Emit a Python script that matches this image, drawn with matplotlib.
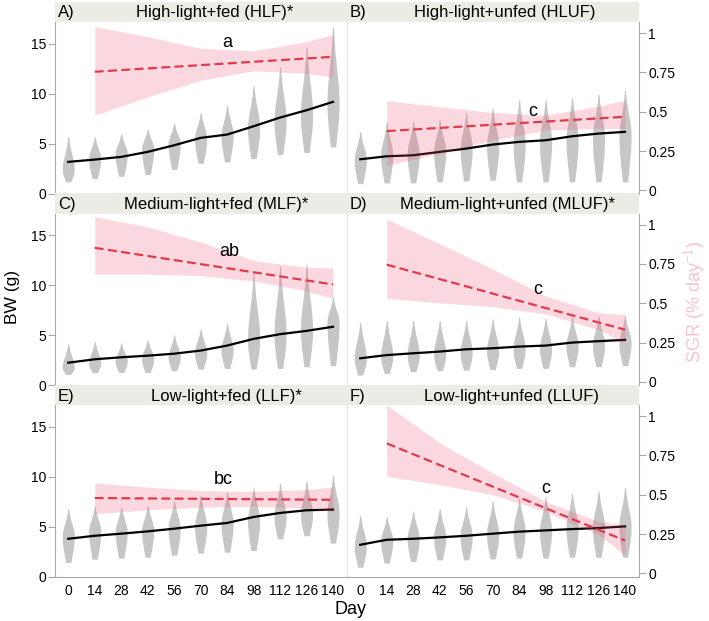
import numpy as np
import matplotlib
matplotlib.use('Agg')
import matplotlib.pyplot as plt

plt.rcParams['font.family'] = ['Liberation Sans', 'DejaVu Sans']
plt.rcParams['mathtext.default'] = 'regular'

# sampling days
days = [0, 14, 28, 42, 56, 70, 84, 98, 112, 126, 140]
sgr_days = [14, 140]
band_days = [14, 42, 70, 98, 126, 140]

# A) High-light+fed
bw_A = [3.17, 3.4, 3.67, 4.17, 4.83, 5.57, 5.9, 6.73, 7.6, 8.33, 9.17]
lo_A = [1.17, 1.5, 1.73, 1.9, 2.43, 3.03, 3.17, 3.5, 3.9, 4.1, 4.67]
mode_A = [2.4, 3.5, 4.0, 4.5, 5.0, 5.5, 5.8, 6.5, 7.2, 7.8, 9.0]
hi_A = [5.67, 5.67, 5.93, 6.43, 7.0, 8.07, 8.83, 10.77, 12.67, 14.67, 16.67]
sgr_A = [0.754, 0.849]
up_A = [1.04, 0.977, 0.902, 0.887, 0.945, 0.992]
dn_A = [0.478, 0.594, 0.70, 0.760, 0.743, 0.722]

# B) High-light+unfed
bw_B = [3.43, 3.73, 3.83, 4.17, 4.5, 4.9, 5.17, 5.33, 5.73, 6.0, 6.17]
lo_B = [1.0, 1.07, 1.07, 1.17, 1.27, 1.33, 1.17, 1.17, 1.17, 1.17, 1.17]
mode_B = [3.4, 3.8, 4.0, 4.2, 4.5, 4.8, 5.0, 5.2, 5.4, 5.6, 5.8]
hi_B = [6.17, 7.17, 7.17, 7.4, 8.0, 8.5, 9.33, 9.4, 9.57, 9.9, 10.33]
sgr_B = [0.377, 0.468]
up_B = [0.570, 0.532, 0.495, 0.478, 0.536, 0.574]
dn_B = [0.16, 0.234, 0.319, 0.383, 0.394, 0.394]

# C) Medium-light+fed
bw_C = [2.24, 2.58, 2.78, 2.94, 3.14, 3.45, 3.95, 4.62, 5.09, 5.42, 5.83]
lo_C = [1.07, 1.24, 1.27, 1.27, 1.44, 1.6, 1.67, 1.6, 1.67, 1.84, 1.94]
mode_C = [1.8, 2.2, 2.4, 2.6, 2.8, 3.2, 3.5, 4.5, 5.0, 5.5, 6.3]
hi_C = [4.12, 4.35, 4.18, 4.52, 5.02, 5.62, 6.19, 11.2, 11.9, 12.05, 8.77]
sgr_C = [0.852, 0.619]
up_C = [1.049, 0.985, 0.889, 0.771, 0.728, 0.724]
dn_C = [0.685, 0.685, 0.675, 0.642, 0.578, 0.531]

# D) Medium-light+unfed
bw_D = [2.68, 3.0, 3.18, 3.35, 3.58, 3.68, 3.85, 3.95, 4.25, 4.39, 4.52]
lo_D = [1.0, 1.17, 1.34, 1.44, 1.5, 1.55, 1.67, 1.67, 1.84, 1.84, 1.94]
mode_D = [2.7, 2.9, 3.0, 3.1, 3.2, 3.4, 3.6, 3.6, 3.9, 4.0, 4.2]
hi_D = [6.26, 6.46, 6.46, 6.46, 6.46, 6.6, 6.8, 6.7, 6.86, 6.86, 6.93]
sgr_D = [0.745, 0.332]
up_D = [1.034, 0.878, 0.717, 0.546, 0.439, 0.428]
dn_D = [0.531, 0.503, 0.478, 0.433, 0.332, 0.246]

# E) Low-light+fed
bw_E = [3.78, 4.08, 4.29, 4.52, 4.79, 5.09, 5.36, 5.96, 6.36, 6.63, 6.70]
lo_E = [1.41, 1.74, 1.84, 1.94, 2.14, 2.34, 2.44, 2.61, 3.78, 4.08, 3.35]
mode_E = [4.0, 4.5, 4.5, 4.6, 4.8, 5.0, 5.3, 5.6, 6.0, 6.2, 6.3]
hi_E = [6.76, 7.03, 6.96, 7.1, 7.6, 8.1, 8.47, 8.87, 9.3, 9.54, 10.1]
sgr_E = [0.479, 0.468]
up_E = [0.574, 0.549, 0.526, 0.521, 0.532, 0.549]
dn_E = [0.379, 0.404, 0.421, 0.426, 0.415, 0.394]

# F) Low-light+unfed
bw_F = [3.18, 3.68, 3.78, 3.92, 4.08, 4.29, 4.49, 4.62, 4.75, 4.85, 5.02]
lo_F = [0.94, 1.34, 1.5, 1.67, 1.67, 1.77, 1.84, 1.84, 1.94, 1.94, 1.94]
mode_F = [3.1, 3.6, 3.8, 3.9, 4.0, 4.2, 4.5, 4.6, 4.8, 4.9, 5.0]
hi_F = [6.09, 5.96, 6.53, 6.8, 6.96, 7.53, 7.87, 7.97, 8.3, 8.54, 8.87]
sgr_F = [0.826, 0.209]
up_F = [1.07, 0.83, 0.638, 0.457, 0.33, 0.309]
dn_F = [0.617, 0.564, 0.5, 0.394, 0.245, 0.117]

tags = ['A)', 'B)', 'C)', 'D)', 'E)', 'F)']
titles = ['High-light+fed (HLF)*', 'High-light+unfed (HLUF)',
          'Medium-light+fed (MLF)*', 'Medium-light+unfed (MLUF)*',
          'Low-light+fed (LLF)*', 'Low-light+unfed (LLUF)']
letters = ['a', 'c', 'ab', 'c', 'bc', 'c']

panels = [
    (bw_A, lo_A, mode_A, hi_A, sgr_A, up_A, dn_A),
    (bw_B, lo_B, mode_B, hi_B, sgr_B, up_B, dn_B),
    (bw_C, lo_C, mode_C, hi_C, sgr_C, up_C, dn_C),
    (bw_D, lo_D, mode_D, hi_D, sgr_D, up_D, dn_D),
    (bw_E, lo_E, mode_E, hi_E, sgr_E, up_E, dn_E),
    (bw_F, lo_F, mode_F, hi_F, sgr_F, up_F, dn_F),
]

# layout in pixels
W, H = 709, 621
col_x = [55, 347]
col_w = 292
row_top = [22, 213.5, 405]
plot_h = 171.6
strip_h = 20
title_cx = [215, 505, 216, 507, 226, 512]
letter_xy = [(84, 15.07), (91, 8.2), (85, 13.4), (94, 9.54), (82, 9.7), (98, 8.8)]

VIO = '#c6c6c6'
RED = '#e23a4a'
BAND = '#f0506e'
AXC = '#a8a8a8'


def violin(ax, x, lo, mode, hi, half=3.2):
    y = np.linspace(lo, hi, 120)
    s_lo = (mode - lo) / 1.3
    s_hi = (hi - mode) / 2.2
    s = np.where(y < mode, s_lo, s_hi)
    w = half * np.exp(-0.5 * ((y - mode) / s) ** 2)
    ax.fill_betweenx(y, x - w, x + w, color=VIO, lw=0, zorder=2)


fig = plt.figure(figsize=(W / 100, H / 100), dpi=100)

for i, (bw, lo, mo, hi, sgr, up, dn) in enumerate(panels):
    r, c = divmod(i, 2)
    x0 = col_x[c]
    top = row_top[r]
    ax = fig.add_axes([x0 / W, 1 - (top + plot_h) / H, col_w / W, plot_h / H])
    for d, a, m, b in zip(days, lo, mo, hi):
        violin(ax, d, a, m, b)
    ax.plot(days, bw, color='black', lw=1.6, zorder=3)
    ax.set_xlim(-7, 147.4)
    ax.set_ylim(0, 17.15)
    ax.set_yticks([0, 5, 10, 15])
    ax.set_xticks(days)
    for sp in ['top', 'right']:
        ax.spines[sp].set_visible(False)
    ax.spines['bottom'].set_visible(r == 2)
    ax.spines['bottom'].set_color(AXC)
    ax.tick_params(axis='x', length=0, pad=5, labelsize=10, labelbottom=(r == 2))
    if c == 0:
        ax.spines['left'].set_color(AXC)
        ax.tick_params(axis='y', length=5, color=AXC, pad=1.5, labelsize=10)
    else:
        ax.spines['left'].set_color('#e2e2e2')
        ax.tick_params(axis='y', length=0, labelleft=False)

    tw = ax.twinx()
    tw.fill_between(band_days, dn, up, color=BAND, alpha=0.22, lw=0, zorder=1)
    tw.plot(sgr_days, sgr, color=RED, lw=1.6, ls=(0, (4, 2)), zorder=4)
    tw.set_ylim(-0.02, 1.07)
    tw.set_xlim(-7, 147.4)
    for sp in ['top', 'left', 'bottom']:
        tw.spines[sp].set_visible(False)
    if c == 1:
        tw.spines['right'].set_color(AXC)
        tw.set_yticks([0, 0.25, 0.5, 0.75, 1])
        tw.set_yticklabels(['0', '0.25', '0.5', '0.75', '1'])
        tw.tick_params(axis='y', length=5, color=AXC, pad=1.5, labelsize=10)
    else:
        tw.spines['right'].set_visible(False)
        tw.set_yticks([])
    lx, ly = letter_xy[i]
    tw.text(lx, ly, letters[i], transform=ax.transData, ha='center', va='center',
            fontsize=13, zorder=6)

    # strip header
    st = fig.add_axes([x0 / W, 1 - top / H, col_w / W, strip_h / H])
    st.set_facecolor('#edece4')
    st.set_xticks([])
    st.set_yticks([])
    for sp in st.spines.values():
        sp.set_visible(False)
    st.text(3 / col_w, 0.45, tags[i], ha='left', va='center', fontsize=12,
            transform=st.transAxes)
    st.text((title_cx[i] - x0) / col_w, 0.45, titles[i], ha='center', va='center',
            fontsize=12, transform=st.transAxes)

fig.text(12 / W, 1 - 297 / H, 'BW (g)', rotation=90, ha='center', va='center', fontsize=12.5)
fig.text(695 / W, 1 - 302 / H, 'SGR (% day$^{-1}$)', rotation=90, ha='center',
         va='center', fontsize=13, color='#f6c4cb')
fig.text(350 / W, 1 - 609 / H, 'Day', ha='center', va='center', fontsize=13)

fig.savefig('out.png', dpi=100)
